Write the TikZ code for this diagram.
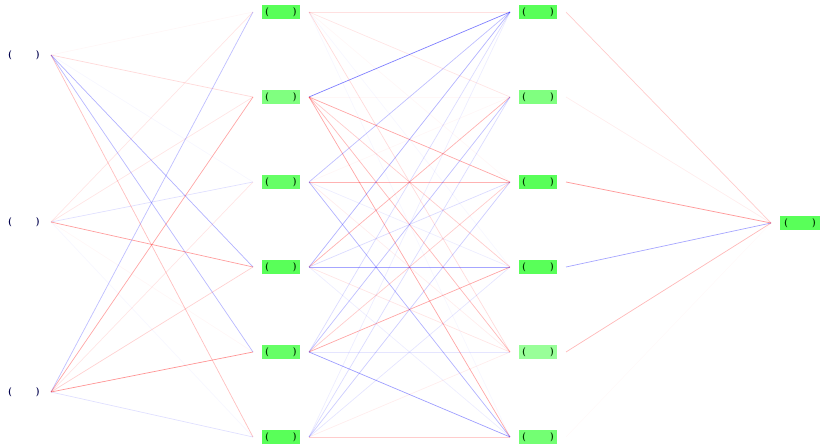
\documentclass[tikz,border=0pt]{standalone}
\usepackage{tikz}
\usetikzlibrary{positioning}

\begin{document}
\begin{tikzpicture}[x=1bp, y=-1bp, node distance=71bp,
					innode/.style={rectangle, minimum width=36bp, minimum height=14bp, inner sep=0pt, outer xsep=9bp, outer ysep=0pt, font=\small\sffamily\bfseries, text=blue!30!black},
					hidnode/.style={rectangle, fill=green!#1, minimum width=38bp, minimum height=14bp, inner sep=0pt, outer xsep=9bp, outer ysep=0pt, font=\small\sffamily\bfseries, text=green!20!black},
					wpos/.style={draw=red, opacity=#1, line width=0.7bp},
					wneg/.style={draw=blue, opacity=#1, line width=0.7bp}
					]
					\useasboundingbox (0,0) rectangle (821,447);
					
					% Input layer
					\node[innode] (i1) at (24,55) {(\hspace{24bp})};
					\node[innode, below=153bp of i1] (i2) {(\hspace{24bp})};
					\node[innode, below=156bp of i2] (i3) {(\hspace{24bp})};
					
					% First hidden layer
					\node[hidnode=65] (h1) at (281,12) {(\hspace{24bp})};
					\node[hidnode=50, below=of h1] (h2) {(\hspace{24bp})};
					\node[hidnode=60, below=of h2] (h3) {(\hspace{24bp})};
					\node[hidnode=65, below=of h3] (h4) {(\hspace{24bp})};
					\node[hidnode=60, below=of h4] (h5) {(\hspace{24bp})};
					\node[hidnode=65, below=of h5] (h6) {(\hspace{24bp})};
					
					% Second hidden layer
					\node[hidnode=65] (g1) at (538,12) {(\hspace{24bp})};
					\node[hidnode=50, below=of g1] (g2) {(\hspace{24bp})};
					\node[hidnode=65, below=of g2] (g3) {(\hspace{24bp})};
					\node[hidnode=65, below=of g3] (g4) {(\hspace{24bp})};
					\node[hidnode=40, below=of g4] (g5) {(\hspace{24bp})};
					\node[hidnode=55, below=of g5] (g6) {(\hspace{24bp})};
					
					% Output
					\node[hidnode=65, minimum width=40bp] (out) at (800,223) {(\hspace{24bp})};
					
					% Input -> first hidden
					\draw[wpos=0.03] (i1.east) -- (h1.west);
					\draw[wpos=0.15] (i1.east) -- (h2.west);
					\draw[wneg=0.03] (i1.east) -- (h3.west);
					\draw[wneg=0.3] (i1.east) -- (h4.west);
					\draw[wneg=0.28] (i1.east) -- (h5.west);
					\draw[wpos=0.25] (i1.east) -- (h6.west);
					\draw[wpos=0.1] (i2.east) -- (h1.west);
					\draw[wpos=0.1] (i2.east) -- (h2.west);
					\draw[wneg=0.12] (i2.east) -- (h3.west);
					\draw[wpos=0.38] (i2.east) -- (h4.west);
					\draw[wpos=0.03] (i2.east) -- (h5.west);
					\draw[wneg=0.03] (i2.east) -- (h6.west);
					\draw[wneg=0.25] (i3.east) -- (h1.west);
					\draw[wpos=0.35] (i3.east) -- (h2.west);
					\draw[wpos=0.1] (i3.east) -- (h3.west);
					\draw[wpos=0.18] (i3.east) -- (h4.west);
					\draw[wpos=0.42] (i3.east) -- (h5.west);
					\draw[wneg=0.12] (i3.east) -- (h6.west);
					
					% First hidden -> second hidden
					\draw[wpos=0.12] (h1.east) -- (g1.west);
					\draw[wpos=0.1] (h1.east) -- (g2.west);
					\draw[wpos=0.03] (h1.east) -- (g3.west);
					\draw[wneg=0.03] (h1.east) -- (g4.west);
					\draw[wpos=0.14] (h1.east) -- (g5.west);
					\draw[wneg=0.03] (h1.east) -- (g6.west);
					\draw[wneg=0.5] (h2.east) -- (g1.west);
					\draw[wpos=0.03] (h2.east) -- (g2.west);
					\draw[wpos=0.35] (h2.east) -- (g3.west);
					\draw[wpos=0.2] (h2.east) -- (g4.west);
					\draw[wpos=0.28] (h2.east) -- (g5.west);
					\draw[wpos=0.35] (h2.east) -- (g6.west);
					\draw[wneg=0.25] (h3.east) -- (g1.west);
					\draw[wpos=0.03] (h3.east) -- (g2.west);
					\draw[wpos=0.3] (h3.east) -- (g3.west);
					\draw[wneg=0.07] (h3.east) -- (g4.west);
					\draw[wpos=0.07] (h3.east) -- (g5.west);
					\draw[wneg=0.3] (h3.east) -- (g6.west);
					\draw[wneg=0.3] (h4.east) -- (g1.west);
					\draw[wpos=0.3] (h4.east) -- (g2.west);
					\draw[wneg=0.14] (h4.east) -- (g3.west);
					\draw[wneg=0.35] (h4.east) -- (g4.west);
					\draw[wpos=0.1] (h4.east) -- (g5.west);
					\draw[wneg=0.07] (h4.east) -- (g6.west);
					\draw[wneg=0.14] (h5.east) -- (g1.west);
					\draw[wneg=0.25] (h5.east) -- (g2.west);
					\draw[wpos=0.2] (h5.east) -- (g3.west);
					\draw[wpos=0.35] (h5.east) -- (g4.west);
					\draw[wneg=0.1] (h5.east) -- (g5.west);
					\draw[wneg=0.38] (h5.east) -- (g6.west);
					\draw[wneg=0.07] (h6.east) -- (g1.west);
					\draw[wneg=0.14] (h6.east) -- (g2.west);
					\draw[wneg=0.2] (h6.east) -- (g3.west);
					\draw[wneg=0.1] (h6.east) -- (g4.west);
					\draw[wpos=0.07] (h6.east) -- (g5.west);
					\draw[wpos=0.2] (h6.east) -- (g6.west);
					
					% Second hidden -> output
					\draw[wpos=0.2] (g1.east) -- (out.west);
					\draw[wpos=0.07] (g2.east) -- (out.west);
					\draw[wpos=0.4] (g3.east) -- (out.west);
					\draw[wneg=0.35] (g4.east) -- (out.west);
					\draw[wpos=0.28] (g5.east) -- (out.west);
					\draw[wpos=0.02] (g6.east) -- (out.west);
					
				\end{tikzpicture}
\end{document}
